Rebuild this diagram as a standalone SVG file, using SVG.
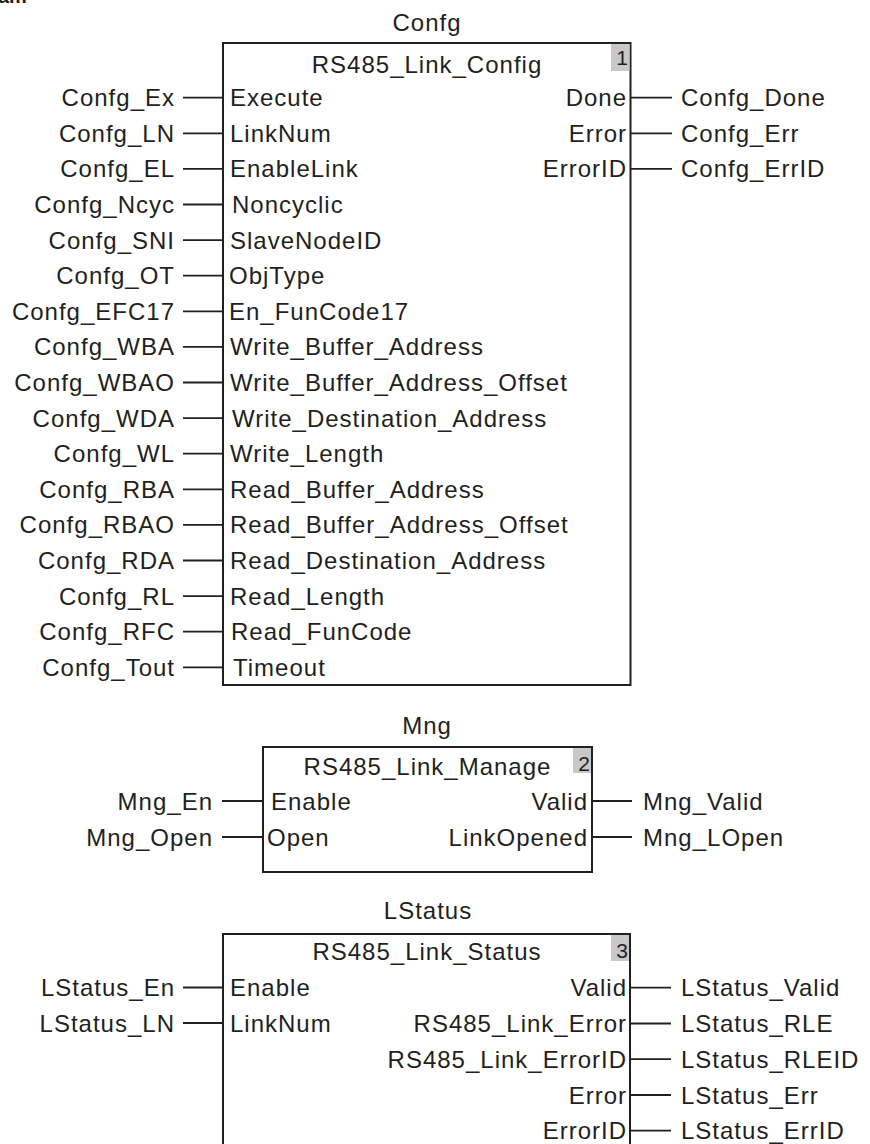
<svg xmlns="http://www.w3.org/2000/svg" width="870" height="1144" viewBox="0 0 870 1144">
<style>
text{font-family:"Liberation Sans",Arial,sans-serif;font-size:24px;fill:#231f20;letter-spacing:1px}
.e{text-anchor:end}
.m{text-anchor:middle}
.box{fill:#fff;stroke:#231f20;stroke-width:2}
.badge{fill:#c8c8c8;stroke:none}
.num{font-size:21px;letter-spacing:0}
.w{stroke:#231f20;stroke-width:1.8;fill:none}
.hd{font-weight:bold;font-size:20px;letter-spacing:0}
</style>
<rect width="870" height="1144" fill="#fff"/>
<text class="hd" x="-2" y="3">am</text>

<g id="confg">
<text class="m" x="427" y="31">Confg</text>
<rect class="box" x="223" y="43" width="407.5" height="642"/>
<rect class="badge" x="611" y="44" width="18.5" height="27"/>
<text class="num e" x="628" y="65">1</text>
<text class="m" x="427" y="72.5">RS485_Link_Config</text>
<g>
<text x="230" y="106.2">Execute</text>
<text x="230" y="141.8">LinkNum</text>
<text x="230" y="177.4">EnableLink</text>
<text x="232" y="213">Noncyclic</text>
<text x="230" y="248.6">SlaveNodeID</text>
<text x="229" y="284.2">ObjType</text>
<text x="229" y="319.8">En_FunCode17</text>
<text x="230" y="355.4">Write_Buffer_Address</text>
<text x="230" y="391">Write_Buffer_Address_Offset</text>
<text x="232" y="426.6">Write_Destination_Address</text>
<text x="230" y="462.2">Write_Length</text>
<text x="230" y="497.8">Read_Buffer_Address</text>
<text x="230" y="533.4">Read_Buffer_Address_Offset</text>
<text x="230" y="569">Read_Destination_Address</text>
<text x="230" y="604.6">Read_Length</text>
<text x="231" y="640.2">Read_FunCode</text>
<text x="233" y="675.8">Timeout</text>
</g>
<g>
<text class="e" x="627" y="106.2">Done</text>
<text class="e" x="627" y="141.8">Error</text>
<text class="e" x="627" y="177.4">ErrorID</text>
</g>
<g>
<text class="e" x="175" y="106.2">Confg_Ex</text>
<text class="e" x="175" y="141.8">Confg_LN</text>
<text class="e" x="175" y="177.4">Confg_EL</text>
<text class="e" x="175" y="213">Confg_Ncyc</text>
<text class="e" x="175" y="248.6">Confg_SNI</text>
<text class="e" x="175" y="284.2">Confg_OT</text>
<text class="e" x="175" y="319.8">Confg_EFC17</text>
<text class="e" x="175" y="355.4">Confg_WBA</text>
<text class="e" x="175" y="391">Confg_WBAO</text>
<text class="e" x="175" y="426.6">Confg_WDA</text>
<text class="e" x="175" y="462.2">Confg_WL</text>
<text class="e" x="175" y="497.8">Confg_RBA</text>
<text class="e" x="175" y="533.4">Confg_RBAO</text>
<text class="e" x="175" y="569">Confg_RDA</text>
<text class="e" x="175" y="604.6">Confg_RL</text>
<text class="e" x="175" y="640.2">Confg_RFC</text>
<text class="e" x="175" y="675.8">Confg_Tout</text>
<text x="681" y="106.2">Confg_Done</text>
<text x="681" y="141.8">Confg_Err</text>
<text x="681" y="177.4">Confg_ErrID</text>
</g>
</g>

<g id="mng">
<text class="m" x="427" y="734">Mng</text>
<rect class="box" x="263" y="747" width="329" height="125"/>
<rect class="badge" x="573" y="748" width="18" height="25"/>
<text class="num e" x="590" y="771">2</text>
<text class="m" x="427.5" y="774.5">RS485_Link_Manage</text>
<text x="271" y="809.5">Enable</text>
<text x="267" y="845.5">Open</text>
<text class="e" x="588" y="809.5">Valid</text>
<text class="e" x="588" y="845.5">LinkOpened</text>
<text class="e" x="213" y="809.5">Mng_En</text>
<text class="e" x="213" y="845.5">Mng_Open</text>
<text x="643" y="809.5">Mng_Valid</text>
<text x="643" y="845.5">Mng_LOpen</text>
</g>

<g id="lstatus">
<text class="m" x="428" y="919">LStatus</text>
<rect class="box" x="223" y="934" width="407" height="240"/>
<rect class="badge" x="611" y="935" width="18" height="26"/>
<text class="num e" x="628" y="958">3</text>
<text class="m" x="427" y="960">RS485_Link_Status</text>
<text x="230" y="996">Enable</text>
<text x="230" y="1031.5">LinkNum</text>
<text class="e" x="627" y="996.2">Valid</text>
<text class="e" x="627" y="1032">RS485_Link_Error</text>
<text class="e" x="627" y="1067.7">RS485_Link_ErrorID</text>
<text class="e" x="627" y="1103.5">Error</text>
<text class="e" x="627" y="1139.2">ErrorID</text>
<text class="e" x="175" y="996">LStatus_En</text>
<text class="e" x="175" y="1031.5">LStatus_LN</text>
<text x="681" y="996.2">LStatus_Valid</text>
<text x="681" y="1032">LStatus_RLE</text>
<text x="681" y="1067.7">LStatus_RLEID</text>
<text x="681" y="1103.5">LStatus_Err</text>
<text x="681" y="1139.2">LStatus_ErrID</text>
</g>

<g id="connectors" class="w">
<path d="M183 97.7H223M183 133.3H223M183 168.9H223M183 204.5H223M183 240.1H223M183 275.7H223M183 311.3H223M183 346.9H223M183 382.5H223M183 418.1H223M183 453.7H223M183 489.3H223M183 524.9H223M183 560.5H223M183 596.1H223M183 631.7H223M183 667.3H223"/>
<path d="M630.5 97.7H672M630.5 133.3H672M630.5 168.9H672"/>
<path d="M222 801H263M222 837H263M592 801H632M592 837H632"/>
<path d="M183 987.5H223M183 1023H223"/>
<path d="M630 987.7H671M630 1023.5H671M630 1059.2H671M630 1095H671M630 1130.7H671"/>
</g>
</svg>
